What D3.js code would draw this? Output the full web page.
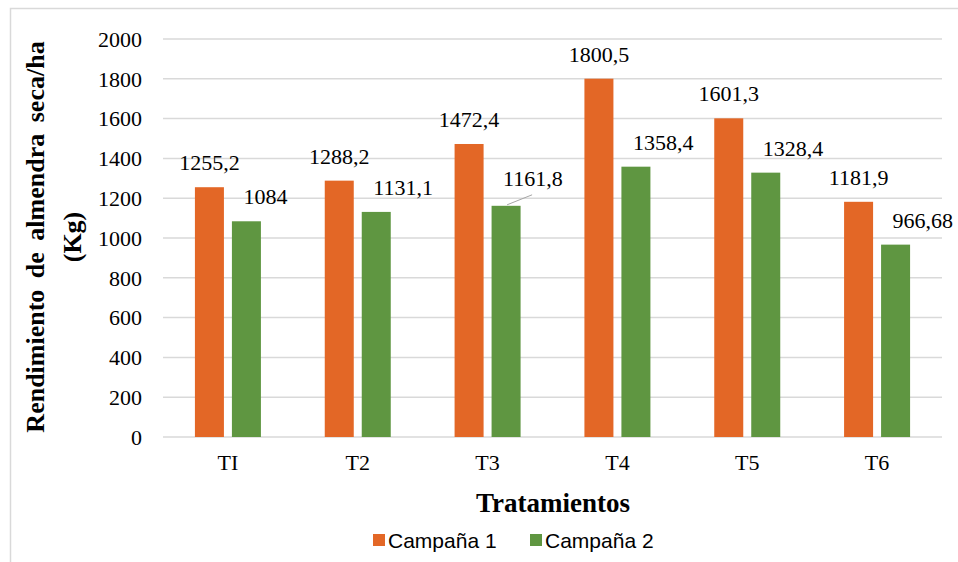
<!DOCTYPE html>
<html>
<head>
<meta charset="utf-8">
<script src="https://cdn.jsdelivr.net/npm/d3@7"></script>
<style>
  body { margin: 0; background: #fff; }
</style>
</head>
<body>
<div id="chart"></div>
<script>
// data
const categories = ["TI", "T2", "T3", "T4", "T5", "T6"];
const series = ["Campaña 1", "Campaña 2"];
const campana1 = [1255.2, 1288.2, 1472.4, 1800.5, 1601.3, 1181.9];
const campana2 = [1084, 1131.1, 1161.8, 1358.4, 1328.4, 966.68];
const labels1 = ["1255,2", "1288,2", "1472,4", "1800,5", "1601,3", "1181,9"];
const labels2 = ["1084", "1131,1", "1161,8", "1358,4", "1328,4", "966,68"];
const yTicks = [0, 200, 400, 600, 800, 1000, 1200, 1400, 1600, 1800, 2000];
const colors = ["#E36726", "#5F9641"];

const serif = "'Liberation Serif', 'Times New Roman', serif";
const sans = "'Liberation Sans', Arial, sans-serif";

const width = 958, height = 562;
const plotLeft = 163, plotRight = 942, plotTop = 39, plotBottom = 437;

const svg = d3.select("#chart").append("svg")
    .attr("width", width)
    .attr("height", height);

// chart frame (right and bottom edges are cropped in the original)
svg.append("path")
    .attr("d", `M10.5,${height} V8.5 H${width}`)
    .attr("fill", "none")
    .attr("stroke", "#D9D9D9")
    .attr("stroke-width", 1.5);

const x0 = d3.scaleBand().domain(categories).range([plotLeft, plotRight]);
const x1 = d3.scaleBand().domain(series).range([-33, 33]).paddingInner(0.216);
const y = d3.scaleLinear().domain([0, 2000]).range([plotBottom, plotTop]);

// gridlines
svg.append("g")
  .selectAll("line")
  .data(yTicks)
  .join("line")
    .attr("x1", plotLeft).attr("x2", plotRight)
    .attr("y1", d => y(d)).attr("y2", d => y(d))
    .attr("stroke", "#D9D9D9")
    .attr("stroke-width", 1.5);

// y axis labels
const yAxis = d3.axisLeft(y).tickValues(yTicks).tickFormat(d3.format("d"))
    .tickSize(0).tickPadding(0);
svg.append("g")
    .attr("transform", `translate(142,0)`)
    .call(yAxis)
    .call(g => g.select(".domain").remove())
    .call(g => g.selectAll("text")
        .style("font-family", serif)
        .style("font-size", "22px")
        .attr("fill", "#000")
        .attr("dy", "0.33em"));

// x axis labels
const xAxis = d3.axisBottom(x0).tickSize(0).tickPadding(0);
svg.append("g")
    .attr("transform", `translate(0,${plotBottom + 17})`)
    .call(xAxis)
    .call(g => g.select(".domain").remove())
    .call(g => g.selectAll("text")
        .style("font-family", serif)
        .style("font-size", "22px")
        .attr("fill", "#000"));

const rows = categories.map((c, i) => ({
  cat: c,
  vals: [
    { s: series[0], v: campana1[i], label: labels1[i], k: 0 },
    { s: series[1], v: campana2[i], label: labels2[i], k: 1 }
  ]
}));

const groups = svg.append("g")
  .selectAll("g")
  .data(rows)
  .join("g")
    .attr("transform", d => `translate(${x0(d.cat) + x0.bandwidth() / 2},0)`);

groups.selectAll("rect")
  .data(d => d.vals)
  .join("rect")
    .attr("x", d => x1(d.s))
    .attr("width", x1.bandwidth())
    .attr("y", d => y(d.v))
    .attr("height", d => y(0) - y(d.v))
    .attr("fill", d => colors[d.k]);

// data labels: first series centred on bar, second series pushed right like Excel did
groups.selectAll("text.lbl")
  .data(d => d.vals.map(v => Object.assign({ cat: d.cat }, v)))
  .join("text")
    .attr("class", "lbl")
    .style("font-family", serif)
    .style("font-size", "22px")
    .attr("text-anchor", d => d.k === 0 ? "middle" : "start")
    .attr("x", d => d.k === 0 ? x1(d.s) + x1.bandwidth() / 2 : x1(d.s) + x1.bandwidth() / 2 - 3)
    .attr("y", d => y(d.v) - (d.k === 1 && d.cat === "T3" ? 20 : 17))
    .text(d => d.label);

// leader line for the T3 / campaña 2 label
const t3 = rows[2].vals[1];
const t3x = x0("T3") + x0.bandwidth() / 2 + x1(t3.s) + x1.bandwidth() / 2;
svg.append("line")
    .attr("x1", t3x + 1).attr("y1", y(t3.v) - 1)
    .attr("x2", t3x + 26).attr("y2", y(t3.v) - 11)
    .attr("stroke", "#A6A6A6")
    .attr("stroke-width", 1);

// axis titles
svg.append("text")
    .attr("x", 553).attr("y", 512)
    .attr("text-anchor", "middle")
    .style("font-family", serif)
    .style("font-weight", "bold")
    .style("font-size", "27px")
    .text("Tratamientos");

const yTitle = svg.append("text")
    .attr("transform", "translate(0,237) rotate(-90)")
    .attr("text-anchor", "middle")
    .style("font-family", serif)
    .style("font-weight", "bold")
    .style("font-size", "26px");
yTitle.append("tspan").attr("x", 0).attr("y", 44).attr("word-spacing", 5)
    .text("Rendimiento de almendra seca/ha");
yTitle.append("tspan").attr("x", 0).attr("y", 81).text("(Kg)");

// legend
const legend = svg.append("g")
  .selectAll("g")
  .data(series)
  .join("g")
    .attr("transform", (d, i) => `translate(${373 + i * 157},534)`);
legend.append("rect")
    .attr("width", 12).attr("height", 12)
    .attr("fill", (d, i) => colors[i]);
legend.append("text")
    .attr("x", 15).attr("y", 13.5)
    .style("font-family", sans)
    .style("font-size", "21px")
    .text(d => d);
</script>
</body>
</html>
